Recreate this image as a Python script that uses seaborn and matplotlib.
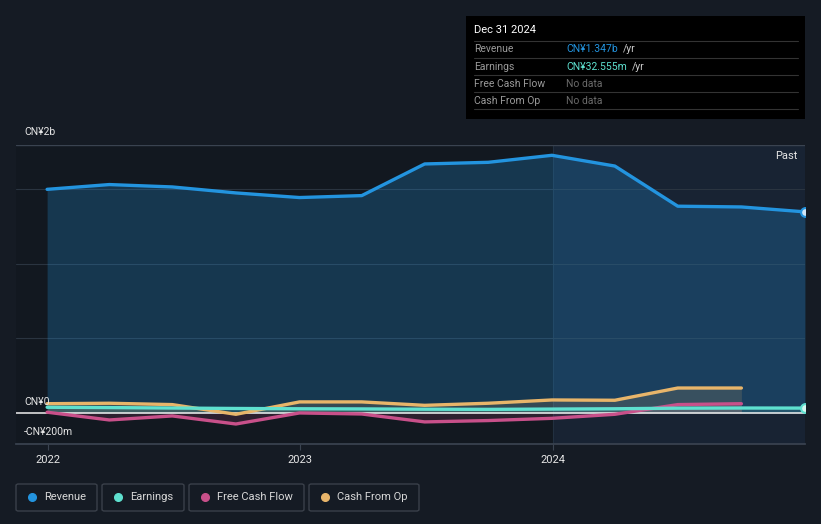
import pandas as pd
import matplotlib.pyplot as plt
import seaborn as sns
from matplotlib.patches import Rectangle, FancyBboxPatch
from matplotlib.lines import Line2D

# quarterly values, CN¥ millions
dates = pd.date_range('2021-12-31', periods=13, freq='QE')
revenue = [1498, 1530, 1514, 1474, 1443, 1456, 1668, 1679, 1726, 1654, 1385, 1380, 1347]
earnings = [38, 36, 33, 30, 28, 27, 25, 24, 26, 28, 32, 33, 32.555]
free_cash_flow = [5, -47, -20, -74, 0, -7, -60, -51, -36, -9, 56, 62]
cash_from_op = [62, 65, 56, -9, 74, 74, 51, 65, 87, 85, 167, 167]

series_names = ['Revenue', 'Earnings', 'Free Cash Flow', 'Cash From Op']
colors = ['#2394df', '#5ee0cf', '#c8508a', '#e8b56a']
year_ticks = ['2022', '2023', '2024']
y_labels = ['CN¥2b', 'CN¥0', '-CN¥200m']

BG = '#151b24'
sns.set_theme(style='dark')
plt.rcParams['font.family'] = ['Roboto', 'DejaVu Sans']

W, H = 821, 524
fig = plt.figure(figsize=(W / 100, H / 100), dpi=100, facecolor=BG)

def fx(x):
    return x / W

def fy(y):
    return 1 - y / H

ax = fig.add_axes([fx(16), fy(444), fx(805) - fx(16), fy(145) - fy(444)])
ax.set_facecolor('#121820')

# last year highlight
ax.axvspan(pd.Timestamp('2024-01-01'), pd.Timestamp('2025-01-01'), color='#1a2738', alpha=0.8, lw=0, zorder=0)
ax.axvline(pd.Timestamp('2024-01-01'), color='#223040', lw=0.8, zorder=0.5)

for g in [500, 1000, 1500]:
    ax.axhline(g, color='#2a3440', lw=0.8, zorder=1)
ax.axhline(1795, color='#3a4350', lw=1, zorder=1)

# fills
ax.fill_between(dates, revenue, 0, color=colors[0], alpha=0.25, lw=0, zorder=2)
ax.fill_between(dates, earnings, 0, color=colors[1], alpha=0.15, lw=0, zorder=2)
ax.fill_between(dates[:12], free_cash_flow, 0, color=colors[2], alpha=0.15, lw=0, zorder=2)
ax.fill_between(dates[:12], cash_from_op, 0, color=colors[3], alpha=0.15, lw=0, zorder=2)

sns.lineplot(x=dates[:12], y=cash_from_op, ax=ax, color=colors[3], lw=2.4, zorder=4)
sns.lineplot(x=dates[:12], y=free_cash_flow, ax=ax, color=colors[2], lw=2.4, zorder=4)
sns.lineplot(x=dates, y=earnings, ax=ax, color=colors[1], lw=2.4, zorder=5)
sns.lineplot(x=dates, y=revenue, ax=ax, color=colors[0], lw=2.4, zorder=5)

ax.axhline(0, color='#f0f0f0', lw=1.1, zorder=3)

ax.scatter([dates[-1]], [revenue[-1]], s=40, facecolor='#cfe6f8', edgecolor=colors[0], lw=1.5, zorder=6)
ax.scatter([dates[-1]], [earnings[-1]], s=40, facecolor='#d6f7f2', edgecolor=colors[1], lw=1.5, zorder=6)

ax.set_xlim(pd.Timestamp('2021-11-16'), pd.Timestamp('2024-12-31'))
ax.set_ylim(-208, 1795)
ax.set_xticks([pd.Timestamp(y + '-01-01') for y in year_ticks])
ax.set_xticklabels(year_ticks, color='#e6e6e6', fontsize=8)
ax.tick_params(axis='x', length=4, width=0.8, color='#3a4350', pad=4, bottom=True)
ax.set_yticks([])
ax.set_xlabel('')
ax.set_ylabel('')
for s in ['top', 'left', 'right']:
    ax.spines[s].set_visible(False)
ax.spines['bottom'].set_color('#3a4350')
ax.grid(False)

# y labels above their lines
fig.text(fx(24), fy(132), y_labels[0], color='#e6e6e6', fontsize=7.5, va='center')
fig.text(fx(24), fy(402), y_labels[1], color='#e6e6e6', fontsize=7.5, va='center')
fig.text(fx(24), fy(432), y_labels[2], color='#e6e6e6', fontsize=7.5, va='center')
fig.text(fx(797), fy(156), 'Past', color='#e6e6e6', fontsize=8, va='center', ha='right')

# tooltip box
fig.add_artist(Rectangle((fx(466), fy(119)), fx(805) - fx(466), fy(16) - fy(119),
                         transform=fig.transFigure, facecolor='#000000', edgecolor='none'))
fig.text(fx(474), fy(30), 'Dec 31 2024', color='#ffffff', fontsize=8, va='center')
for ly in [41, 58, 75, 92, 109]:
    fig.add_artist(Line2D([fx(474), fx(798)], [fy(ly), fy(ly)], transform=fig.transFigure,
                          color='#333333', lw=0.8))
rows = [('Revenue', 'CN¥1.347b', colors[0], 623),
        ('Earnings', 'CN¥32.555m', colors[1], 632),
        ('Free Cash Flow', 'No data', '#6a6a6a', None),
        ('Cash From Op', 'No data', '#6a6a6a', None)]
for i, (lab, val, c, unit_x) in enumerate(rows):
    yy = fy(49 + i * 17.5)
    fig.text(fx(474), yy, lab, color='#9a9a9a', fontsize=7.5, va='center')
    fig.text(fx(566), yy, val, color=c, fontsize=7.5, va='center')
    if unit_x:
        fig.text(fx(unit_x), yy, '/yr', color='#cccccc', fontsize=7.5, va='center')

# legend boxes
legend_boxes = [(16, 97), (102, 184), (189, 304), (309, 419)]
for (x0, x1), name, c in zip(legend_boxes, series_names, colors):
    fig.add_artist(FancyBboxPatch((fx(x0), fy(511)), fx(x1) - fx(x0), fy(484) - fy(511),
                                  boxstyle='round,pad=0,rounding_size=0.003',
                                  transform=fig.transFigure, facecolor='none',
                                  edgecolor='#3a404a', lw=1))
    fig.add_artist(Line2D([fx(x0 + 16)], [fy(497)], transform=fig.transFigure, marker='o',
                          markersize=5.5, color=c, lw=0))
    fig.text(fx(x0 + 28), fy(497), name, color='#d8d8d8', fontsize=8, va='center')

fig.savefig('out.png', dpi=100, facecolor=BG)
